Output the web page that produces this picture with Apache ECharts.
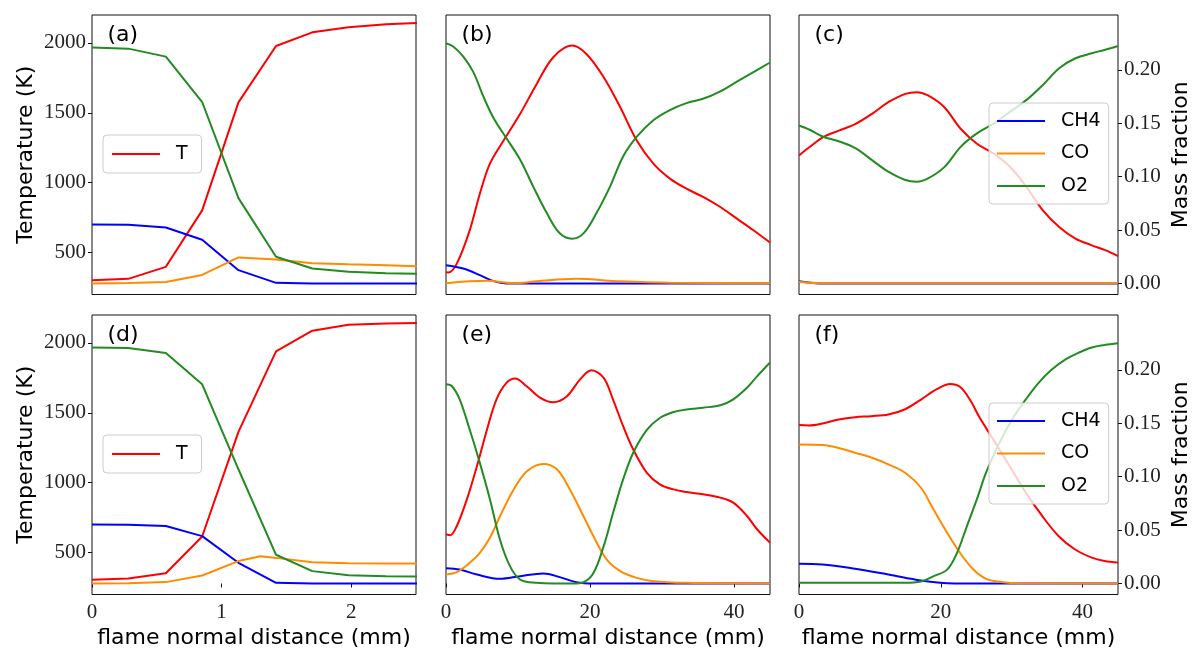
<!DOCTYPE html>
<html><head><meta charset="utf-8">
<script src="https://cdn.jsdelivr.net/npm/echarts@6/dist/echarts.min.js"></script>
<style>html,body{margin:0;padding:0;background:#fff}#c{width:1193px;height:651px}</style>
</head><body><div id="c"></div>
<script>
// ---------- data (x in mm, T in K, species in mass fraction) ----------
const aT   = [[0,302],[0.28,312],[0.57,398],[0.85,802],[1.13,1575],[1.42,1978],[1.70,2076],[1.98,2112],[2.27,2133],[2.55,2145]];
const aCH4 = [[0,0.0553],[0.28,0.055],[0.57,0.0525],[0.85,0.041],[1.13,0.0125],[1.42,0.0006],[1.70,0],[2.55,0]];
const aCO  = [[0,0],[0.28,0.0005],[0.57,0.0015],[0.85,0.008],[1.13,0.0244],[1.42,0.0225],[1.70,0.019],[1.98,0.018],[2.27,0.017],[2.55,0.016]];
const aO2  = [[0,0.221],[0.28,0.220],[0.57,0.2125],[0.85,0.170],[1.13,0.080],[1.42,0.025],[1.70,0.014],[1.98,0.011],[2.27,0.0097],[2.55,0.009]];

const bT   = [[0,362],[0.3,357],[1.5,421],[3.3,660],[4.7,921],[6.1,1136],[8.0,1302],[10.3,1493],[12.6,1707],[14.9,1898],[17.5,1981],[19.5,1921],[21.9,1755],[24.2,1540],[26.5,1302],[28.8,1136],[31.1,1029],[33.4,957],[35.7,898],[38.1,826],[40.4,743],[42.7,660],[45,572]];
const bCH4 = [[0,0.0172],[2.4,0.014],[4.7,0.0078],[6.6,0.0022],[8.4,0],[45,0]];
const bCO  = [[0,0.0003],[5.7,0.0025],[9.4,0.0003],[12.6,0.002],[18.1,0.0044],[24.2,0.002],[31.1,0.0006],[45,0.0003]];
const bO2  = [[0,0.225],[1.0,0.222],[2.4,0.2125],[3.8,0.198],[5.2,0.175],[6.6,0.155],[8.4,0.136],[10.3,0.116],[12.1,0.091],[14.0,0.066],[15.8,0.047],[17.5,0.042],[19.1,0.047],[20.9,0.066],[22.8,0.091],[24.6,0.119],[26.5,0.1375],[28.8,0.153],[31.1,0.1625],[33.4,0.169],[35.7,0.173],[38.1,0.18],[40.4,0.189],[42.7,0.198],[45,0.207]];

const cT   = [[0,1195],[1.5,1255],[3.4,1326],[5.7,1374],[8.0,1421],[10.3,1493],[12.6,1576],[15.0,1636],[16.6,1648],[18.2,1624],[20.5,1540],[22.8,1386],[25.1,1279],[27.5,1207],[29.8,1112],[32.1,969],[34.4,802],[36.7,683],[39.0,600],[41.3,552],[43.2,517],[45,474]];
const cCH4 = [[0,0.0022],[3.4,0],[45,0]];
const cCO  = [[0,0.0016],[3.4,0.0002],[45,0.0002]];
const cO2  = [[0,0.148],[1.5,0.144],[3.4,0.1375],[5.7,0.133],[8.0,0.1266],[10.3,0.1156],[12.6,0.1047],[15.0,0.0969],[16.6,0.0953],[18.2,0.0984],[20.5,0.109],[22.8,0.128],[25.1,0.1406],[27.5,0.15],[29.8,0.161],[32.1,0.172],[34.4,0.186],[36.7,0.2016],[39.0,0.211],[41.3,0.2156],[43.2,0.219],[45,0.2225]];

const dT   = [[0,305],[0.28,314],[0.57,352],[0.85,615],[1.13,1364],[1.42,1940],[1.70,2088],[1.98,2130],[2.27,2140],[2.55,2144]];
const dCH4 = [[0,0.0553],[0.28,0.055],[0.57,0.0538],[0.85,0.0444],[1.13,0.0194],[1.42,0.0006],[1.70,0],[2.55,0]];
const dCO  = [[0,0],[0.28,0.0003],[0.57,0.0013],[0.85,0.0075],[1.13,0.021],[1.3,0.0256],[1.42,0.024],[1.70,0.02],[1.98,0.019],[2.27,0.0188],[2.55,0.0188]];
const dO2  = [[0,0.221],[0.28,0.2206],[0.57,0.216],[0.85,0.1866],[1.13,0.107],[1.42,0.0269],[1.70,0.0116],[1.98,0.0078],[2.27,0.0069],[2.55,0.0066]];

const eT   = [[0,631],[0.6,624],[1.5,690],[2.9,881],[4.3,1119],[5.7,1381],[7.0,1595],[8.4,1714],[9.6,1745],[11.2,1690],[13.1,1607],[14.9,1576],[16.8,1619],[18.6,1738],[20.2,1805],[21.9,1750],[23.2,1595],[24.6,1405],[26.0,1238],[27.9,1071],[29.7,988],[31.6,952],[33.4,933],[35.7,917],[38.1,893],[39.9,857],[41.8,762],[43.2,667],[45,571]];
const eCH4 = [[0,0.0144],[1.9,0.0131],[4.3,0.0084],[7.5,0.0044],[10.3,0.0069],[13.5,0.0094],[15.8,0.006],[18.1,0.0012],[20.5,0],[45,0]];
const eCO  = [[0,0.0084],[1.5,0.0106],[3.3,0.0194],[4.7,0.0288],[6.1,0.0428],[7.5,0.063],[9.4,0.088],[11.2,0.105],[13.5,0.112],[15.4,0.107],[17.2,0.088],[19.1,0.063],[20.5,0.044],[22.3,0.0225],[24.2,0.0116],[26.5,0.0053],[28.8,0.0022],[33.4,0.0006],[45,0]];
const eO2  = [[0,0.1866],[0.8,0.185],[1.9,0.1725],[3.3,0.144],[4.7,0.113],[6.1,0.079],[7.5,0.041],[8.9,0.016],[10.3,0.0037],[12.6,0.0006],[14.9,0],[17.7,0],[19.1,0.0012],[20.5,0.01],[21.9,0.035],[23.2,0.066],[24.6,0.0975],[26.0,0.1225],[27.9,0.144],[29.7,0.155],[31.6,0.1606],[33.4,0.163],[35.7,0.1647],[38.1,0.1669],[39.9,0.1725],[41.8,0.1834],[43.2,0.194],[45,0.207]];

const fT   = [[0,1412],[1.4,1410],[3.3,1424],[5.6,1452],[7.9,1469],[10.2,1476],[12.6,1488],[14.9,1524],[17.2,1595],[19.5,1671],[21.3,1707],[22.7,1686],[24.1,1595],[25.5,1464],[27.4,1310],[29.7,1119],[32.0,929],[34.3,762],[36.6,619],[38.9,524],[41.3,464],[43.1,440],[45,429]];
const fCH4 = [[0,0.0184],[3.3,0.0178],[7.9,0.0138],[12.6,0.0084],[17.2,0.0028],[19.9,0.0006],[22,0],[45,0]];
const fCO  = [[0,0.1303],[3.3,0.1297],[5.6,0.127],[7.9,0.1225],[10.2,0.118],[12.6,0.1116],[14.9,0.104],[17.2,0.0897],[19.0,0.069],[20.9,0.0475],[22.7,0.0288],[24.6,0.0131],[26.4,0.0044],[28.8,0.0012],[31.1,0.0003],[45,0]];
const fO2  = [[0,0.0006],[14.9,0.0006],[17.2,0.0019],[19.0,0.0069],[20.9,0.013],[22.3,0.0288],[23.7,0.054],[25.1,0.079],[26.4,0.104],[28.3,0.132],[30.1,0.154],[32.0,0.1725],[33.8,0.188],[35.7,0.2006],[37.6,0.21],[39.4,0.216],[41.3,0.221],[43.1,0.2234],[45,0.225]];

const panelLabels = ['(a)','(b)','(c)','(d)','(e)','(f)'];
const tempTicks = [500,1000,1500,2000];
const massTicks = [0,0.05,0.10,0.15,0.20];
const xTicksShort = [0,1,2];
const xTicksLong = [0,20,40];
const speciesNames = ['CH4','CO','O2'];
const xName = 'flame normal distance (mm)';
const tName = 'Temperature (K)';
const mName = 'Mass fraction';

// ---------- layout ----------
const COLORS = {T:'#ff0000', CH4:'#0000ff', CO:'#ff8c00', O2:'#228b22'};
const colLeft = [92, 446, 799];
const rowTop = [15, 315];
const W = 324, H = 279.5;
const SERIF = 'Liberation Serif';
const SANS = 'DejaVu Sans';

const panels = [
  {T:aT, CH4:aCH4, CO:aCO, O2:aO2, row:0, col:0, xMax:2.5, ticks:xTicksShort, smooth:false},
  {T:bT, CH4:bCH4, CO:bCO, O2:bO2, row:0, col:1, xMax:45, ticks:xTicksLong, smooth:0.35},
  {T:cT, CH4:cCH4, CO:cCO, O2:cO2, row:0, col:2, xMax:45, ticks:xTicksLong, smooth:0.35},
  {T:dT, CH4:dCH4, CO:dCO, O2:dO2, row:1, col:0, xMax:2.5, ticks:xTicksShort, smooth:false},
  {T:eT, CH4:eCH4, CO:eCO, O2:eO2, row:1, col:1, xMax:45, ticks:xTicksLong, smooth:0.35},
  {T:fT, CH4:fCH4, CO:fCO, O2:fO2, row:1, col:2, xMax:45, ticks:xTicksLong, smooth:0.35}
];

const grid = [], xAxis = [], yAxis = [], series = [], title = [];
panels.forEach((p, i) => {
  const showX = p.row === 1, showL = p.col === 0, showR = p.col === 2;
  grid.push({left: colLeft[p.col], top: rowTop[p.row], width: W, height: H,
    show: true, borderColor: '#111', borderWidth: 1, backgroundColor: 'transparent'});
  xAxis.push({type:'value', gridIndex:i, min:0, max:p.xMax,
    axisLine:{show:false}, splitLine:{show:false},
    axisTick:{show:showX, length:4, customValues:p.ticks, lineStyle:{color:'#111'}},
    axisLabel:{show:showX, customValues:p.ticks, margin:7, fontFamily:SERIF, fontSize:21, color:'#222',
      formatter: v => String(v)},
    name: showX ? xName : '', nameLocation:'middle', nameGap:33,
    nameTextStyle:{fontFamily:SANS, fontSize:22, color:'#000'}});
  yAxis.push({type:'value', gridIndex:i, position:'left', min:200, max:2200,
    axisLine:{show:false}, splitLine:{show:false},
    axisTick:{show:showL, length:4, customValues:tempTicks, lineStyle:{color:'#111'}},
    axisLabel:{show:showL, customValues:tempTicks, margin:6, fontFamily:SERIF, fontSize:21, color:'#222',
      formatter: v => String(v)},
    name: showL ? tName : '', nameLocation:'middle', nameRotate:90, nameGap:55,
    nameTextStyle:{fontFamily:SANS, fontSize:22, color:'#000'}});
  yAxis.push({type:'value', gridIndex:i, position:'right', min:-0.0103, max:0.2515,
    axisLine:{show:false}, splitLine:{show:false},
    axisTick:{show:showR, length:4, customValues:massTicks, lineStyle:{color:'#111'}},
    axisLabel:{show:showR, customValues:massTicks, margin:6, fontFamily:SERIF, fontSize:21, color:'#222',
      formatter: v => v.toFixed(2)},
    name: showR ? mName : '', nameLocation:'middle', nameRotate:90, nameGap:52,
    nameTextStyle:{fontFamily:SANS, fontSize:22, color:'#000'}});
  const mk = (name, data, yIdx) => ({type:'line', name, data, xAxisIndex:i, yAxisIndex:yIdx,
    symbol:'none', smooth:p.smooth, clip:true, animation:false,
    lineStyle:{color:COLORS[name], width:2}, itemStyle:{color:COLORS[name]},
    emphasis:{disabled:true}});
  series.push(mk('T', p.T, 2*i));
  speciesNames.forEach(s => series.push(mk(s, p[s], 2*i+1)));
  title.push({text: panelLabels[i], left: colLeft[p.col] + 15.5, top: rowTop[p.row] + 9.5, padding:0,
    textStyle:{fontFamily:SANS, fontSize:22, fontWeight:'normal', color:'#000'}});
});

const legendBase = {orient:'vertical', itemWidth:48, itemHeight:20, itemGap:12.5,
  icon:'path://M0,0 L48,0 L48,2 L0,2 Z', symbolKeepAspect:true,
  backgroundColor:'rgba(255,255,255,0.8)', borderColor:'#cccccc', borderWidth:1, borderRadius:4,
  selectedMode:false, textStyle:{fontFamily:SANS, fontSize:19, color:'#000', padding:[0,0,0,11], lineHeight:20}};
const legend = [
  Object.assign({}, legendBase, {data:['T'], left:103, top:135, padding:[9,14,9,9]}),
  Object.assign({}, legendBase, {data:['T'], left:103, top:435, padding:[9,14,9,9]}),
  Object.assign({}, legendBase, {data:speciesNames, left:989, top:103, padding:[8,8,8,8]}),
  Object.assign({}, legendBase, {data:speciesNames, left:989, top:403, padding:[8,8,8,8]})
];

const chart = echarts.init(document.getElementById('c'), null, {renderer:'canvas'});
chart.setOption({animation:false, backgroundColor:'#fff', title, grid, xAxis, yAxis, series, legend});
</script></body></html>
